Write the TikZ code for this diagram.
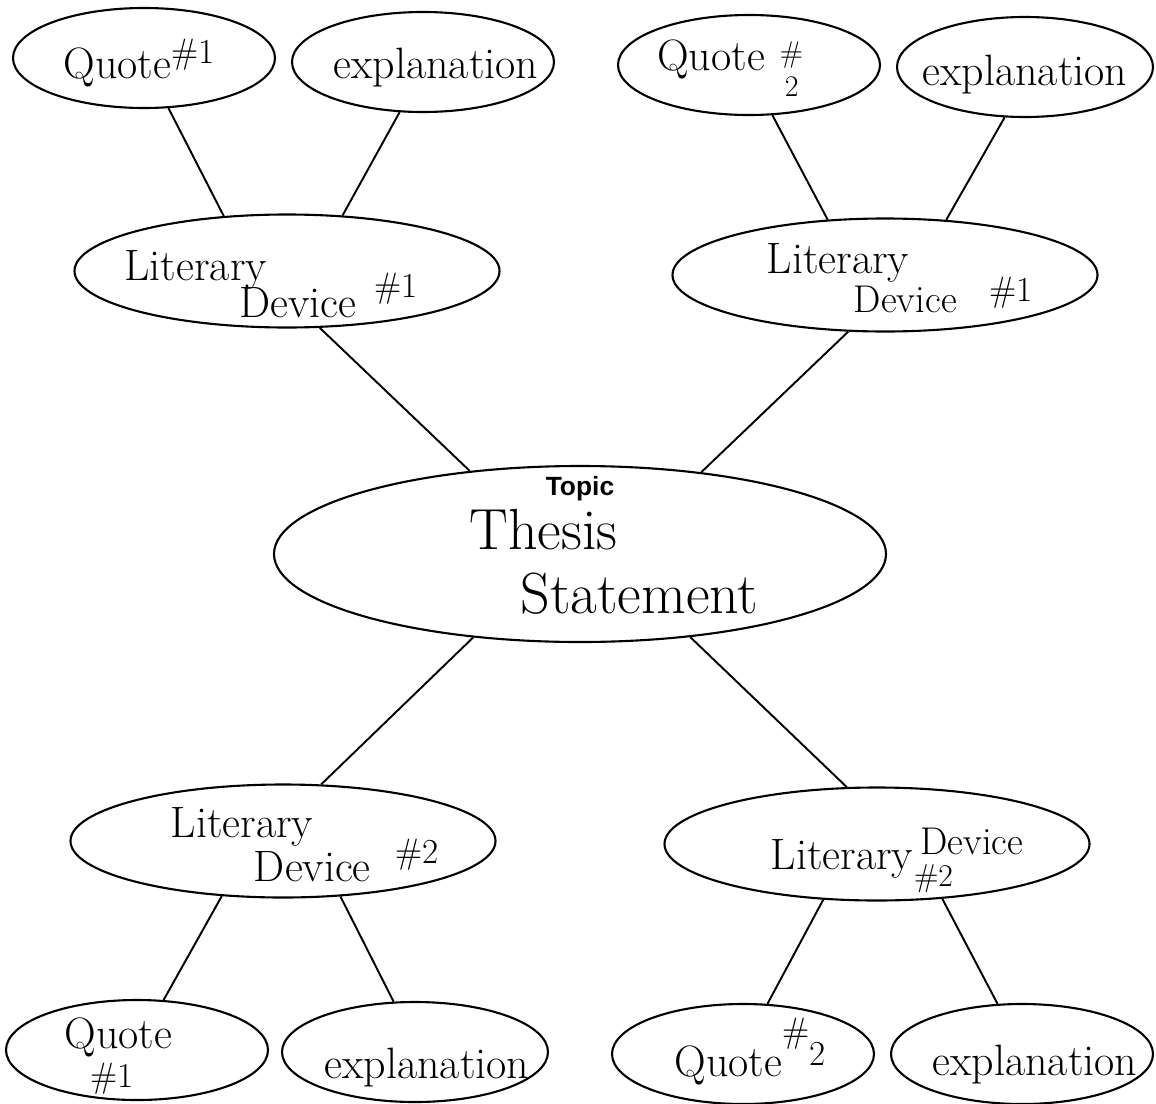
\documentclass[tikz,border=0pt]{standalone}
\usepackage{fontspec}
\newfontfamily\topicfont{Liberation Sans}
\usetikzlibrary{shapes.geometric}

% text sits in a zero-size box so it never stretches the ellipse;
% [dx][dy] move it, dy is where the last line's baseline lands
\NewDocumentCommand{\scrawl}{O{0pt} O{0pt} m}{\makebox[0pt]{\kern#1\kern#1%
  \smash{\raisebox{-#2}{\begin{tabular}[b]{@{}l@{}}#3\end{tabular}}}}}
\newcommand{\supnum}[2][.45em]{\smash{\raisebox{#1}{\fontsize{20}{20}\selectfont #2}}}

\begin{document}
\begin{tikzpicture}[
    x=0.2mm, y=-0.2mm,
    font=\fontsize{25}{22}\selectfont,
    bubble/.style={draw, ellipse, line width=1.2pt, inner sep=0pt,
                   minimum width=52.4mm, minimum height=20mm},
    device/.style={bubble, minimum width=85mm, minimum height=22.6mm},
    hub/.style={bubble, minimum width=122.4mm, minimum height=35.2mm,
                font=\fontsize{33}{36}\selectfont},
    link/.style={line width=1.1pt},
  ]
  \useasboundingbox[fill=white] (0,0) rectangle (1156,1104);

  % thesis in the middle
  \node[hub] (thesis) at (580,554) {\scrawl[.68cm][1.18cm]{Thesis\\\hspace*{1.02cm}Statement}};
  \node[font=\topicfont\bfseries\fontsize{15}{15}\selectfont] (topic) at (580,489) {Topic};

  % literary devices
  \node[device] (ldA) at (287,271) {\scrawl[-.32cm][.92cm]{Literary\\[-3pt]%
    \hspace*{2.3cm}Device\kern.35cm\supnum[11pt]{\#1}}};
  \node[device] (ldB) at (885,275) {\scrawl[.3cm][.74cm]{Literary\\%
    \hspace*{1.74cm}{\fontsize{22}{22}\selectfont Device}\hspace{.66cm}\supnum[6pt]{\#1}}};
  \node[device] (ldC) at (283,841) {\scrawl[.44cm][.8cm]{Literary\\[1pt]%
    \hspace*{1.66cm}Device\hspace{.5cm}\supnum[10pt]{\#2}}};
  \node[device] (ldD) at (877,844) {\scrawl[.4cm][.5cm]{Literary%
    \rlap{\kern.02cm\raisebox{-10pt}{\fontsize{18}{18}\selectfont\#2}}\,%
    \raisebox{8.5pt}{\fontsize{22}{22}\selectfont Device}}};

  % quotes and explanations, top row
  \node[bubble] (qA) at (144,58) {\scrawl[-.1cm][.4cm]{Quote\supnum[8pt]{\#1}}};
  \node[bubble] (eA) at (423,62) {\scrawl[.26cm][.32cm]{explanation}};
  \node[bubble] (qB) at (749,65) {\scrawl[-.42cm][.1cm]{Quote\hspace{.3cm}%
    {\fontsize{17}{17}\selectfont\rlap{\raisebox{4pt}{\#}}\smash{\raisebox{-15pt}{\,2}}}}};
  \node[bubble, minimum width=51.2mm] (eB) at (1025,67) {\scrawl[0pt][.36cm]{explanation}};

  % bottom row
  \node[bubble] (qC) at (137,1050) {\scrawl[-.37cm][.74cm]{Quote\\%
    \hspace*{.52cm}{\fontsize{20}{20}\selectfont\#1}}};
  \node[bubble, minimum width=53.2mm] (eC) at (415,1052) {\scrawl[.24cm][.52cm]{explanation}};
  \node[bubble] (qD) at (743,1054) {\scrawl[.14cm][.44cm]{Quote%
    \supnum[19pt]{\#}\supnum[6pt]{2}}};
  \node[bubble] (eD) at (1022,1054) {\scrawl[.26cm][.42cm]{explanation}};

  \draw[link] (qA.-64) -- (ldA.139);
  \draw[link] (eA.-115) -- (ldA.45);
  \draw[link] (qB.-65) -- (ldB.136);
  \draw[link] (eB.-112) -- (ldB.42);
  \draw[link] (ldA.-60) -- (thesis.143);
  \draw[link] (ldB.-123) -- (thesis.34);
  \draw[link] (thesis.-142) -- (ldC.56);
  \draw[link] (thesis.-37) -- (ldD.118);
  \draw[link] (ldC.-138) -- (qC.62);
  \draw[link] (ldC.-44) -- (eC.113);
  \draw[link] (ldD.-134) -- (qD.64);
  \draw[link] (ldD.-40) -- (eD.116);
\end{tikzpicture}
\end{document}
